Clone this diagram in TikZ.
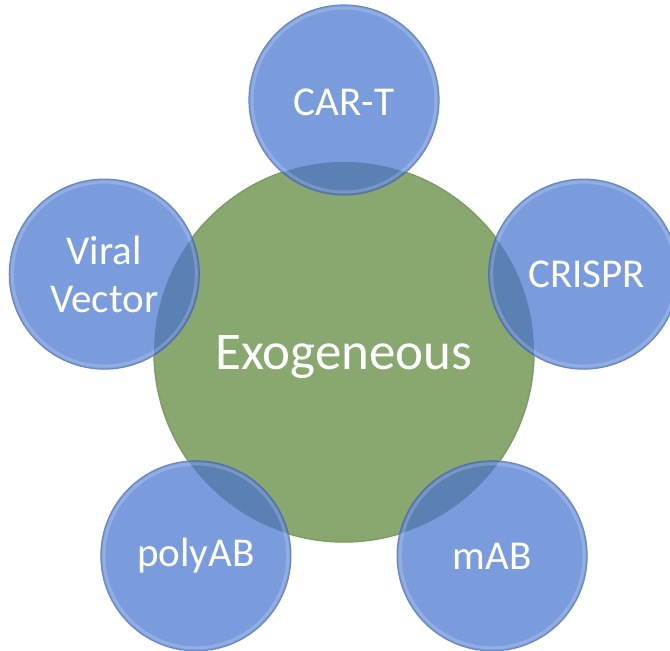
\documentclass[tikz,border=0pt]{standalone}
\usepackage{fontspec}
\setmainfont{Carlito}
\begin{document}
\begin{tikzpicture}[x=1pt,y=1pt]
  \definecolor{coregreen}{HTML}{88A86F}
  \definecolor{coreedge}{HTML}{7E9C66}
  \definecolor{satblue}{HTML}{7B9CDC}
  \definecolor{satedge}{HTML}{6A88C2}
  \definecolor{overlapblue}{HTML}{5A80B4}
  \tikzset{
    core/.style={circle, inner sep=0pt, minimum size=380pt, fill=coregreen, draw=coreedge, line width=1.5pt},
    sat/.style={circle, inner sep=0pt, minimum size=190pt, fill=satblue, draw=satedge, line width=1.2pt},
    label/.style={text=white, align=center, font=\fontsize{41}{48}\selectfont},
    corelabel/.style={text=white, font=\fontsize{53}{60}\selectfont},
    rim/.style={white, opacity=0.18, line width=3pt}
  }
  \useasboundingbox (0,0) rectangle (670,651);
  \coordinate (c) at (344,299);
  % central disc
  \node[core] (core) at (c) {};
  % five satellite discs on a pentagon
  \foreach \name/\ang in {cart/90, crispr/18, mab/-54, polyab/-126, viral/162}{
    \node[sat] (\name) at ([shift={(\ang:252)}]c) {};
  }
  % darker lens where a satellite covers the central disc
  \foreach \name in {cart, crispr, mab, polyab, viral}{
    \begin{scope}
      \clip (core.center) circle[radius=190];
      \fill[overlapblue] (\name.center) circle[radius=95];
      \draw[satedge!70!black, opacity=0.5, line width=1pt] (\name.center) circle[radius=95];
    \end{scope}
    \draw[rim] (\name.center) circle[radius=92];
  }
  % labels
  \node[corelabel] (corelbl) at ([yshift=-5pt]core.center) {Exogeneous};
  \node[label] (cartlbl) at ([yshift=-2pt]cart.center) {CAR-T};
  \node[label] (crisprlbl) at ([xshift=3pt]crispr.center) {CRISPR};
  \node[label] (mablbl) at (mab.center) {mAB};
  \node[label] (polyablbl) at (polyab.center) {polyAB};
  \node[label] (virallbl) at (viral.center) {Viral\\Vector};
\end{tikzpicture}
\end{document}
